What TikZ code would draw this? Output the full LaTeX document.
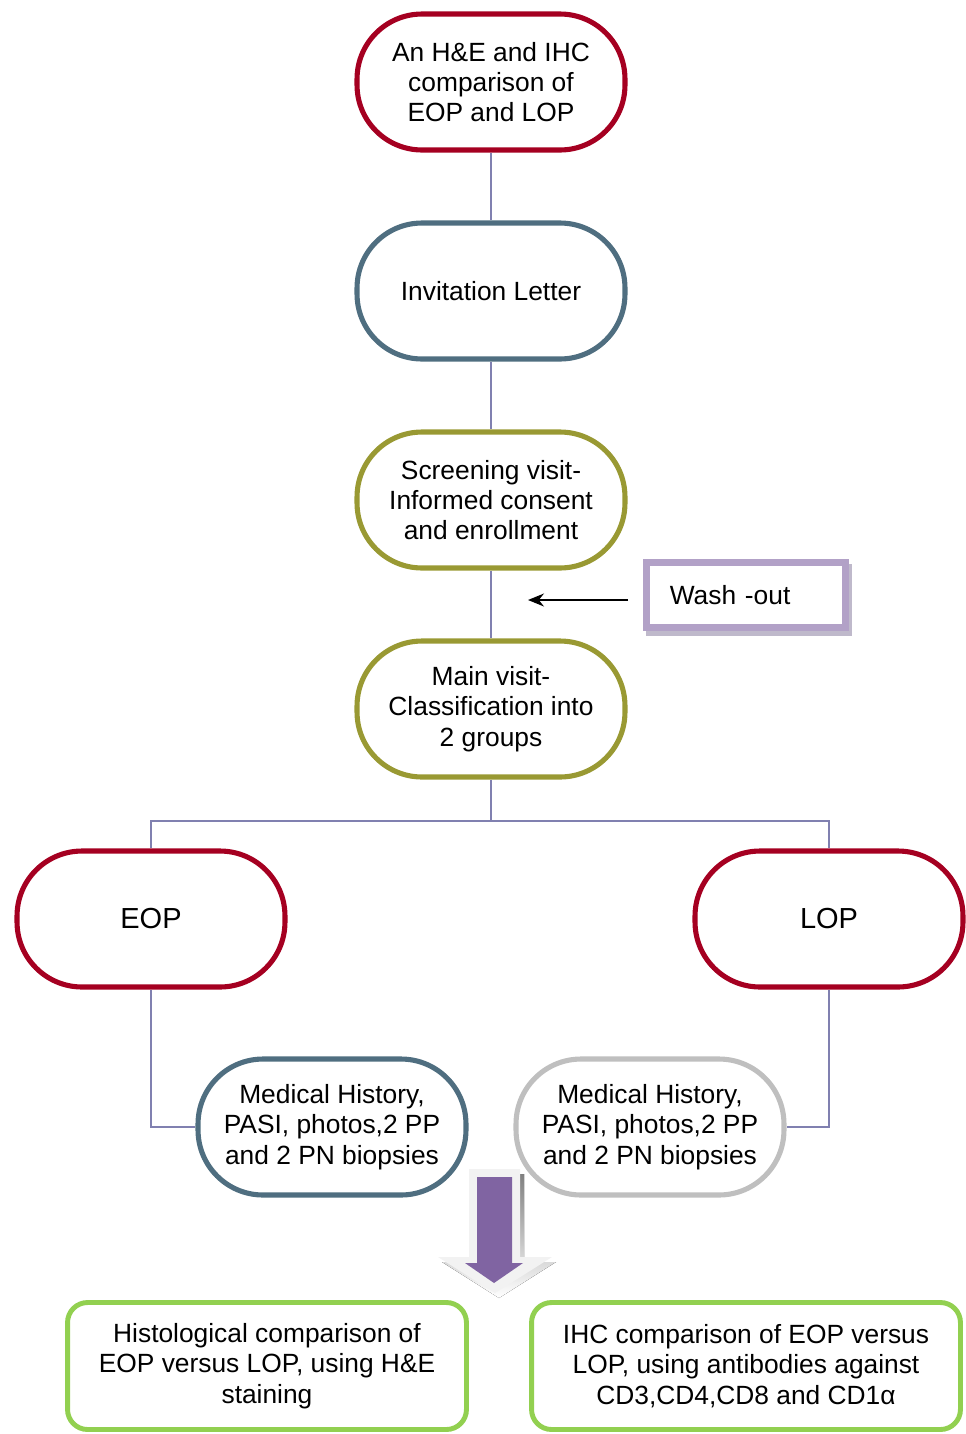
\documentclass[tikz,border=0pt]{standalone}
\usepackage{fontspec}
\setmainfont{Liberation Sans}
\usetikzlibrary{arrows.meta}

\definecolor{wine}{RGB}{165,0,33}
\definecolor{slate}{RGB}{79,110,128}
\definecolor{moss}{RGB}{153,153,51}
\definecolor{silver}{RGB}{191,191,191}
\definecolor{leaf}{RGB}{146,208,80}
\definecolor{linkblue}{RGB}{128,128,176}
\definecolor{lilac}{RGB}{178,161,199}
\definecolor{plum}{RGB}{128,100,162}
\definecolor{shade}{RGB}{163,155,180}
\definecolor{paleedge}{RGB}{242,242,242}

\begin{document}
\begin{tikzpicture}[x=0.02cm,y=-0.02cm,
    pill/.style={draw,line width=2.9pt,rounded corners=1.3cm,minimum width=5.36cm,
      minimum height=2.72cm,align=center,font=\fontsize{15}{17.2}\selectfont},
    result/.style={draw=leaf,line width=2.8pt,rounded corners=0.4cm,minimum height=2.54cm,
      align=center,font=\fontsize{15}{17.2}\selectfont},
    link/.style={draw=linkblue,line width=1pt}]

            \useasboundingbox (0,0) rectangle (966,1434);

            % main column
            \node[pill,draw=wine] (aim) at (491,82) {An H\&E and IHC\\comparison of\\EOP and LOP};
            \node[pill,draw=slate] (invite) at (491,291) {Invitation Letter};
            \node[pill,draw=moss] (screen) at (491,500) {Screening visit-\\Informed consent\\and enrollment};
            \node[pill,draw=moss] (mainvisit) at (491,709) {Main visit-\\Classification into\\2 groups};

            % the two groups
            \node[pill,draw=wine,font=\fontsize{16.5}{19}\selectfont] (eop) at (151,919) {EOP};
            \node[pill,draw=wine,font=\fontsize{16.5}{19}\selectfont] (lop) at (829,919) {LOP};
            \node[pill,draw=slate] (histl) at (332,1127) {Medical History,\\PASI, photos,2 PP\\and 2 PN biopsies};
            \node[pill,draw=silver] (histr) at (650,1127) {Medical History,\\PASI, photos,2 PP\\and 2 PN biopsies};

            \node[result,minimum width=7.98cm] (he) at (267,1366) {Histological comparison of\\EOP versus LOP, using H\&E\\staining};
            \node[result,minimum width=8.58cm] (ihc) at (746,1366) {IHC comparison of EOP versus\\LOP, using antibodies against\\CD3,CD4,CD8 and CD1α};

            % wash-out box
            \node[draw=lilac,line width=4pt,minimum width=3.98cm,minimum height=1.3cm,
              text width=3.05cm,align=left,font=\fontsize{15}{17.2}\selectfont,
              preaction={draw=shade!70,line width=4pt,transform canvas={shift={(0.06cm,-0.1cm)}}},
              fill=white] (wash) at (746,595) {Wash -out};

            \coordinate (washtail) at (628,600);
            \coordinate (washtip) at (528,600);
            \draw[line width=0.8pt,-{Stealth[length=0.32cm,width=0.26cm]}] (washtail) -- (washtip);

            % connectors
            \draw[link] (aim) -- (invite);
            \draw[link] (invite) -- (screen);
            \draw[link] (screen) -- (mainvisit);
            \coordinate (split) at (491,821);
            \draw[link] (mainvisit) -- (split);
            \draw[link] (split) -| (eop);
            \draw[link] (split) -| (lop);
            \draw[link] (eop) |- (histl);
            \draw[link] (lop) |- (histr);

            % big down arrow
            \fill[shade] (473,1174) -- (524,1174) -- (524,1262) -- (556,1262) -- (499,1298)
              -- (442,1262) -- (473,1262) -- cycle;
            \fill[paleedge] (469,1169) -- (520,1169) -- (520,1257) -- (552,1257) -- (495,1293)
              -- (438,1257) -- (469,1257) -- cycle;
            \fill[plum] (477,1177) -- (512,1177) -- (512,1263) -- (523,1263) -- (494,1283)
              -- (465,1263) -- (477,1263) -- cycle;

\end{tikzpicture}
\end{document}
